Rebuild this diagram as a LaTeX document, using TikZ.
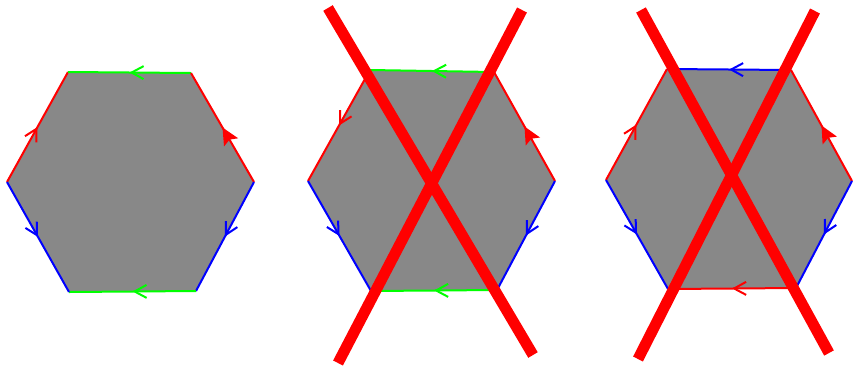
\documentclass[tikz,border=0pt]{standalone}
\usetikzlibrary{arrows.meta,decorations.markings}
\definecolor{hexgray}{RGB}{136,136,136}
\definecolor{pgreen}{RGB}{0,255,0}
\definecolor{pblue}{RGB}{0,0,255}
\definecolor{pred}{RGB}{255,0,0}
\tikzset{
  edge/.style={line width=2pt},
  openmid/.style={postaction={decorate},decoration={markings,mark=at position 0.5 with {\arrow{Straight Barb[length=12pt,width=13pt,line width=2pt]}}}},
  filledmid/.style={postaction={decorate},decoration={markings,mark=at position 0.5 with {\arrow{Stealth[length=17pt,width=16pt,inset=3pt]}}}},
  crossline/.style={line width=11pt,pred},
  hexfill/.style={fill=hexgray},
}
\begin{document}
\begin{tikzpicture}[x=1pt,y=-1pt]
\useasboundingbox (0,0) rectangle (853,365);
% ---------- hexagon 1
\coordinate (h1L) at (7,182);
\coordinate (h1UL) at (68,72);
\coordinate (h1UR) at (191,73);
\coordinate (h1R) at (254,182);
\coordinate (h1LR) at (196,291);
\coordinate (h1LL) at (69,292);
\fill[hexfill] (h1L) -- (h1UL) -- (h1UR) -- (h1R) -- (h1LR) -- (h1LL) -- cycle;
\draw[edge,pred,openmid] (h1L) -- (h1UL);
\draw[edge,pgreen,openmid] (h1UR) -- (h1UL);
\draw[edge,pred,filledmid] (h1R) -- (h1UR);
\draw[edge,pblue,openmid] (h1R) -- (h1LR);
\draw[edge,pgreen,openmid] (h1LR) -- (h1LL);
\draw[edge,pblue,openmid] (h1L) -- (h1LL);
% ---------- hexagon 2
\coordinate (h2L) at (308,181);
\coordinate (h2UL) at (370,70);
\coordinate (h2UR) at (494,72);
\coordinate (h2R) at (555,181);
\coordinate (h2LR) at (497,290);
\coordinate (h2LL) at (371,291);
\fill[hexfill] (h2L) -- (h2UL) -- (h2UR) -- (h2R) -- (h2LR) -- (h2LL) -- cycle;
\draw[edge,pred,openmid] (h2UL) -- (h2L);
\draw[edge,pgreen,openmid] (h2UR) -- (h2UL);
\draw[edge,pred,filledmid] (h2R) -- (h2UR);
\draw[edge,pblue,openmid] (h2R) -- (h2LR);
\draw[edge,pgreen,openmid] (h2LR) -- (h2LL);
\draw[edge,pblue,openmid] (h2L) -- (h2LL);
\coordinate (x2a) at (328,8);
\coordinate (x2b) at (533,355);
\coordinate (x2c) at (522,10);
\coordinate (x2d) at (338,363);
\draw[crossline] (x2a) -- (x2b);
\draw[crossline] (x2c) -- (x2d);
% ---------- hexagon 3
\coordinate (h3L) at (606,180);
\coordinate (h3UL) at (667,69);
\coordinate (h3UR) at (791,70);
\coordinate (h3R) at (852,181);
\coordinate (h3LR) at (796,288);
\coordinate (h3LL) at (668,289);
\fill[hexfill] (h3L) -- (h3UL) -- (h3UR) -- (h3R) -- (h3LR) -- (h3LL) -- cycle;
\draw[edge,pred,openmid] (h3L) -- (h3UL);
\draw[edge,pblue,openmid] (h3UR) -- (h3UL);
\draw[edge,pred,filledmid] (h3R) -- (h3UR);
\draw[edge,pblue,openmid] (h3R) -- (h3LR);
\draw[edge,pred,openmid] (h3LR) -- (h3LL);
\draw[edge,pblue,openmid] (h3L) -- (h3LL);
\coordinate (x3a) at (641,10);
\coordinate (x3b) at (829,353);
\coordinate (x3c) at (815,11);
\coordinate (x3d) at (638,359);
\draw[crossline] (x3a) -- (x3b);
\draw[crossline] (x3c) -- (x3d);
\end{tikzpicture}
\end{document}
